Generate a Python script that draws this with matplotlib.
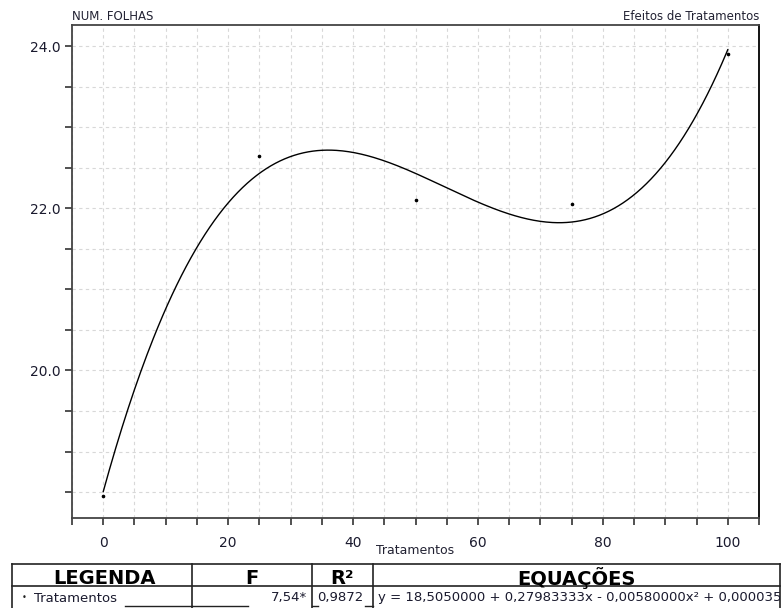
import numpy as np
import matplotlib
matplotlib.use("Agg")
import matplotlib.pyplot as plt
from matplotlib.ticker import MultipleLocator, FormatStrFormatter
from matplotlib.lines import Line2D
from matplotlib.patches import Rectangle

# Data
tratamentos = [0, 25, 50, 75, 100]
num_folhas = [18.45, 22.65, 22.10, 22.05, 23.90]
f_value = "7,54*"
r2_value = "0,9872"
series_name = "Tratamentos"
y_title = "NUM. FOLHAS"
right_title = "Efeitos de Tratamentos"
x_label = "Tratamentos"
headers = ["LEGENDA", "F", "R²", "EQUAÇÕES"]

coef = np.polyfit(tratamentos, num_folhas, 3)  # d, c, b, a
d, c, b, a = coef

def fmt(v, n):
    return f"{abs(v):.{n}f}".replace(".", ",")

eq = (f"y = {fmt(a,7)} {'+' if b>=0 else '-'} {fmt(b,8)}x "
      f"{'+' if c>=0 else '-'} {fmt(c,8)}x² {'+' if d>=0 else '-'} {fmt(d,8)}x³")

W, H = 782, 608
fig = plt.figure(figsize=(W/100, H/100), dpi=100)
ax = fig.add_axes([72/W, 1-518/H, (759-72)/W, (518-25)/H])

xs = np.linspace(0, 100, 400)
ax.plot(xs, np.polyval(coef, xs), color="black", lw=1.0)
ax.plot(tratamentos, num_folhas, "o", color="black", ms=1.6)

ax.set_xlim(-5, 105)
ax.set_ylim(18.18, 24.26)
ax.xaxis.set_major_locator(MultipleLocator(20))
ax.xaxis.set_minor_locator(MultipleLocator(5))
ax.yaxis.set_major_locator(MultipleLocator(2))
ax.yaxis.set_minor_locator(MultipleLocator(0.5))
ax.yaxis.set_major_formatter(FormatStrFormatter("%.1f"))
ax.grid(True, which="both", ls=(0, (3, 3)), color="#d8d8d8", lw=0.8)
ax.set_axisbelow(True)
ax.tick_params(which="both", direction="out", length=5, width=1.2, color="#333333",
               labelsize=10, labelcolor="#1a1a2e")
ax.tick_params(axis="x", pad=8)
for s in ax.spines.values():
    s.set_color("#444444")
    s.set_linewidth(1.3)
ax.spines["right"].set_color("black")

fig.text(72/W, 1-16/H, y_title, fontsize=8.5, color="#222233", ha="left", va="center")
fig.text(759/W, 1-16/H, right_title, fontsize=8.5, color="#222233", ha="right", va="center")
fig.text(415/W, 1-551/H, x_label, fontsize=9, color="#222233", ha="center", va="center")

# Table
def hline(x0, x1, y, lw=1.2):
    fig.add_artist(Line2D([x0/W, x1/W], [1-y/H, 1-y/H], color="#222222", lw=lw))
def vline(x, y0, y1, lw=1.2):
    fig.add_artist(Line2D([x/W, x/W], [1-y0/H, 1-y1/H], color="#222222", lw=lw))

cols = [12, 192, 312, 373, 780]
hline(12, 780, 564)
hline(12, 780, 586)
for xc in cols:
    vline(xc, 564, 608)
# underline segments of row 2
hline(125, 192, 606, 1.0)
hline(192, 248, 606, 1.0)
hline(312, 318, 606, 1.0)
hline(365, 373, 606, 1.0)

centers = [104, 252, 342, 576]
for h, cx in zip(headers, centers):
    fig.text(cx/W, 1-578/H, h, fontsize=14, fontweight="bold", color="black",
             ha="center", va="center")
fig.text(22/W, 1-598/H, "•", fontsize=6, ha="left", va="center", color="#222222")
fig.text(34/W, 1-598/H, series_name, fontsize=9.5, ha="left", va="center", color="#1a1a2e")
fig.text(307/W, 1-598/H, f_value, fontsize=9.5, ha="right", va="center", color="#1a1a2e")
fig.text(317/W, 1-598/H, r2_value, fontsize=9.5, ha="left", va="center", color="#1a1a2e")
eq_text = fig.text(378/W, 1-598/H, eq, fontsize=9.5, ha="left", va="center", color="#1a1a2e")
clip = Rectangle((373/W, 0), (780-373)/W, 1-586/H, transform=fig.transFigure,
                 fill=False, visible=False)
fig.add_artist(clip)
eq_text.set_clip_path(clip)

fig.savefig("out.png", dpi=100)
